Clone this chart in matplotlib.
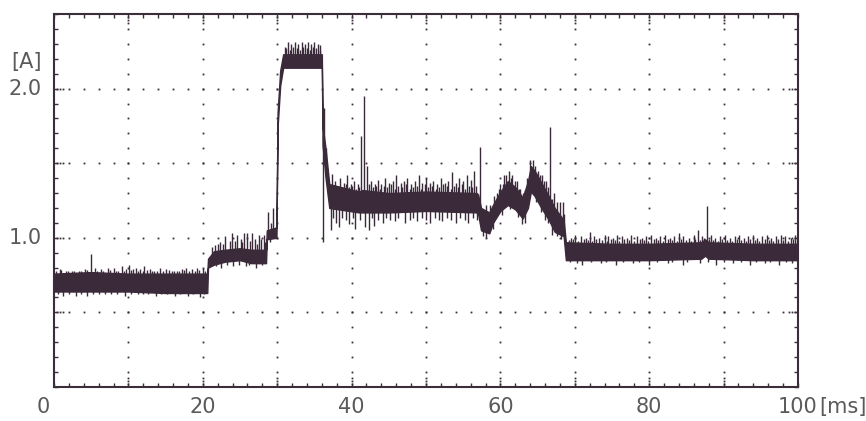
import numpy as np
import matplotlib
matplotlib.use("Agg")
import matplotlib.pyplot as plt
from matplotlib.ticker import MultipleLocator

# ---- data ----
# core band envelope of the current trace: time [ms], lower and upper value [A]
env_t  = [0.0, 5.0, 10.0, 15.0, 20.6, 20.7, 21.5, 23.0, 25.0, 26.5, 28.5, 28.6, 29.9,
          30.05, 30.4, 30.8, 36.0, 36.1, 36.5, 37.0, 41.0, 41.5, 45.0, 50.0, 56.8, 57.0,
          57.4, 58.5, 59.0, 60.0, 61.0, 62.0, 63.0, 63.7, 64.1, 64.6, 65.5, 66.5, 67.3,
          68.5, 68.8, 75.0, 80.0, 87.0, 87.5, 88.0, 94.0, 100.0]
env_lo = [0.64, 0.64, 0.64, 0.63, 0.63, 0.80, 0.82, 0.84, 0.85, 0.83, 0.83, 0.99, 1.00,
          1.74, 2.02, 2.14, 2.14, 1.62, 1.40, 1.20, 1.17, 1.17, 1.17, 1.18, 1.17, 1.16,
          1.05, 1.03, 1.10, 1.18, 1.22, 1.19, 1.13, 1.20, 1.31, 1.28, 1.20, 1.12, 1.04,
          1.01, 0.85, 0.85, 0.85, 0.86, 0.88, 0.86, 0.85, 0.85]
env_hi = [0.76, 0.77, 0.76, 0.76, 0.76, 0.86, 0.91, 0.92, 0.93, 0.92, 0.92, 1.05, 1.07,
          1.84, 2.12, 2.23, 2.23, 1.75, 1.60, 1.36, 1.31, 1.32, 1.30, 1.31, 1.30, 1.29,
          1.20, 1.17, 1.22, 1.31, 1.38, 1.34, 1.27, 1.38, 1.48, 1.45, 1.37, 1.28, 1.20,
          1.12, 0.97, 0.96, 0.96, 0.97, 0.99, 0.97, 0.96, 0.96]

# prominent upward spikes: time [ms], peak value [A]
up_t = [0.8, 1.6, 2.4, 3.3, 4.1, 5.0, 5.5, 6.3, 7.2, 8.0, 8.6, 9.1, 9.7, 10.1, 10.6, 11.0,
        11.6, 12.1, 12.9, 13.5, 14.2, 15.1, 15.8, 16.5, 17.2, 17.8, 18.5, 19.2, 20.0,
        21.2, 22.0, 23.0, 23.6, 23.9, 24.6, 25.1, 25.5, 26.0, 26.6, 27.0, 27.5, 28.2,
        28.8, 29.1, 29.4,
        31.0, 31.5, 31.9, 32.4, 32.8, 33.3, 33.7, 34.2, 34.6, 35.0, 35.5, 35.8,
        36.3, 36.6,
        37.3, 37.8, 38.5, 39.0, 39.4, 39.9, 40.3, 40.8, 41.3, 41.6, 42.1, 42.6, 43.1,
        43.5, 44.0, 44.5, 45.0, 45.5, 46.0, 46.6, 47.0, 47.5, 48.0, 48.5, 49.0, 49.5,
        50.0, 50.5, 51.0, 51.5, 52.0, 52.5, 53.0, 53.5, 54.0, 54.5, 55.0, 55.5, 56.0,
        56.4, 57.2,
        59.5, 60.0, 60.5, 61.1, 61.6, 62.2, 62.7, 63.3, 64.0, 64.4, 65.0, 65.6, 66.1,
        66.6, 67.2, 67.6, 68.0, 68.4,
        69.5, 70.0, 70.8, 71.5, 72.0, 72.6, 73.2, 74.0, 74.5, 75.1, 75.7, 76.3, 77.0,
        77.6, 78.3, 79.0, 79.6, 80.2, 80.9, 81.5, 82.1, 82.8, 83.4, 84.0, 84.6, 85.3,
        86.0, 86.5, 87.1, 87.8, 88.3, 88.9, 89.5, 90.2, 90.8, 91.5, 92.1, 92.7, 93.3,
        93.9, 94.5, 95.2, 95.8, 96.4, 97.0, 97.7, 98.3, 99.0, 99.6]
up_v = [0.79, 0.78, 0.78, 0.78, 0.79, 0.89, 0.80, 0.79, 0.80, 0.80, 0.78, 0.81, 0.79, 0.82,
        0.79, 0.80, 0.79, 0.81, 0.79, 0.78, 0.80, 0.79, 0.78, 0.78, 0.79, 0.80, 0.79,
        0.80, 0.80,
        0.94, 0.96, 1.01, 0.98, 1.03, 1.02, 0.99, 1.03, 1.03, 1.03, 0.99, 1.02, 1.02,
        1.17, 1.10, 1.20,
        2.28, 2.31, 2.30, 2.31, 2.30, 2.31, 2.30, 2.31, 2.30, 2.31, 2.30, 2.29,
        1.87, 1.60,
        1.43, 1.38, 1.40, 1.37, 1.42, 1.36, 1.38, 1.36, 1.68, 1.95, 1.48, 1.38, 1.36,
        1.39, 1.36, 1.40, 1.37, 1.38, 1.42, 1.37, 1.38, 1.40, 1.36, 1.38, 1.42, 1.37,
        1.40, 1.37, 1.38, 1.36, 1.40, 1.37, 1.38, 1.44, 1.37, 1.40, 1.38, 1.42, 1.39,
        1.45, 1.61,
        1.30, 1.36, 1.42, 1.45, 1.42, 1.38, 1.33, 1.32, 1.52, 1.52, 1.45, 1.42, 1.38,
        1.74, 1.30, 1.24, 1.24, 1.24,
        1.00, 1.02, 1.01, 1.00, 1.04, 1.01, 1.00, 1.02, 1.01, 1.00, 1.02, 1.01, 1.00,
        1.02, 1.01, 1.00, 1.01, 1.02, 1.00, 1.01, 1.02, 1.00, 1.01, 1.03, 1.01, 1.00,
        1.02, 1.05, 1.01, 1.21, 1.02, 1.00, 1.01, 1.02, 1.00, 1.01, 1.02, 1.00, 1.01,
        1.02, 1.00, 1.01, 1.02, 1.00, 1.01, 1.02, 1.01, 1.00, 1.02]

# small upward noise spikes (band fuzz): time [ms], peak value [A]
fine_up_t = [0.3, 1.0, 1.9, 2.7, 3.6, 4.4, 5.8, 6.6, 7.5, 8.3, 9.4, 10.4, 11.3, 11.9,
             12.5, 13.2, 13.9, 14.6, 15.4, 16.1, 16.8, 17.5, 18.2, 18.9, 19.5, 20.3,
             21.6, 22.3, 22.7, 24.3, 25.3, 26.3, 27.3, 27.8, 28.4,
             31.2, 31.7, 32.1, 32.6, 33.0, 33.5, 34.0, 34.4, 34.8, 35.2, 35.7,
             37.6, 38.1, 38.8, 39.2, 39.7, 40.1, 40.6, 41.0, 42.4, 42.9, 43.3, 43.8,
             44.3, 44.8, 45.3, 45.8, 46.3, 46.8, 47.3, 47.8, 48.3, 48.8, 49.3, 49.8,
             50.3, 50.8, 51.3, 51.8, 52.3, 52.8, 53.3, 53.8, 54.3, 54.8, 55.3, 55.8,
             56.2, 56.7,
             58.0, 58.6, 59.2, 59.8, 60.3, 60.8, 61.4, 61.9, 62.5, 63.0, 63.6, 64.7,
             65.3, 65.9, 66.4, 67.0, 68.6,
             69.2, 69.8, 70.4, 71.2, 71.8, 72.3, 72.9, 73.6, 74.3, 74.8, 75.4, 76.0,
             76.6, 77.3, 78.0, 78.7, 79.3, 79.9, 80.6, 81.2, 81.8, 82.5, 83.1, 83.7,
             84.3, 85.0, 85.6, 86.2, 86.8, 87.4, 88.1, 88.6, 89.2, 89.8, 90.5, 91.1,
             91.8, 92.4, 93.0, 93.6, 94.2, 94.8, 95.5, 96.1, 96.7, 97.3, 98.0, 98.6,
             99.3, 99.8]
fine_up_v = [0.775, 0.785, 0.775, 0.78, 0.775, 0.785, 0.78, 0.775, 0.785, 0.78, 0.775,
             0.785, 0.78, 0.775, 0.785, 0.78, 0.775, 0.78, 0.785, 0.775, 0.78, 0.785,
             0.775, 0.78, 0.785, 0.775,
             0.95, 0.97, 0.96, 0.98, 0.97, 0.98, 0.96, 0.99, 0.97,
             2.27, 2.26, 2.28, 2.27, 2.26, 2.28, 2.27, 2.26, 2.28, 2.27, 2.26,
             1.34, 1.35, 1.33, 1.36, 1.34, 1.35, 1.33, 1.34, 1.36, 1.34, 1.35, 1.33,
             1.35, 1.34, 1.36, 1.33, 1.35, 1.34, 1.36, 1.33, 1.34, 1.35, 1.33, 1.36,
             1.34, 1.35, 1.33, 1.34, 1.36, 1.35, 1.33, 1.35, 1.34, 1.36, 1.33, 1.35,
             1.34, 1.35,
             1.22, 1.22, 1.28, 1.33, 1.36, 1.42, 1.40, 1.38, 1.33, 1.30, 1.40, 1.48,
             1.42, 1.38, 1.34, 1.26, 1.16,
             0.985, 0.99, 0.98, 0.99, 0.985, 0.98, 0.99, 0.985, 0.98, 0.99, 0.985,
             0.98, 0.99, 0.985, 0.98, 0.99, 0.985, 0.98, 0.99, 0.985, 0.98, 0.99,
             0.985, 0.98, 0.99, 0.985, 0.98, 0.99, 0.985, 1.00, 0.99, 0.985, 0.98,
             0.99, 0.985, 0.98, 0.99, 0.985, 0.98, 0.99, 0.985, 0.98, 0.99, 0.985,
             0.98, 0.99, 0.985, 0.98, 0.99, 0.985]

# downward spikes: time [ms], minimum value [A]
dn_t = [0.5, 1.2, 2.0, 3.0, 3.6, 4.5, 5.3, 6.1, 6.8, 7.7, 8.5, 9.5, 10.3, 11.3, 12.0,
        12.6, 13.7, 14.4, 15.2, 16.2, 17.0, 18.0, 18.7, 19.6, 20.2,
        21.8, 22.5, 23.3, 24.0, 24.8, 25.8, 26.2, 27.2, 28.0, 29.0, 36.1,
        37.2, 37.5, 37.9, 38.3, 38.7, 39.3, 39.6, 40.2, 40.5, 41.1, 41.8, 42.3, 42.7,
        43.0, 43.5, 44.2, 44.6, 45.2, 45.8, 46.3, 47.2, 47.8, 48.3, 48.8, 49.4, 50.0,
        50.5, 51.2, 51.7, 52.2, 52.8, 53.4, 54.0, 54.6, 55.2, 55.7, 56.3, 56.8,
        57.7, 58.0, 59.0, 60.2, 61.3, 62.3, 62.9, 63.3, 64.8, 65.4, 66.0, 66.4, 67.0,
        67.6, 68.2,
        69.4, 70.3, 71.0, 72.2, 73.5, 74.2, 75.5, 76.5, 77.8, 78.6, 80.0, 81.0, 82.5,
        83.0, 84.5, 85.1, 86.8, 87.9, 89.0, 90.0, 91.2, 92.3, 93.5, 94.3, 95.5, 96.3,
        97.5, 98.4, 99.2]
dn_v = [0.62, 0.61, 0.62, 0.61, 0.62, 0.61, 0.62, 0.62, 0.62, 0.62, 0.62, 0.61, 0.62,
        0.62, 0.62, 0.62, 0.61, 0.62, 0.62, 0.61, 0.62, 0.61, 0.62, 0.60, 0.62,
        0.81, 0.80, 0.82, 0.81, 0.82, 0.81, 0.82, 0.80, 0.82, 0.97, 0.97,
        1.05, 1.13, 1.10, 1.07, 1.13, 1.12, 1.09, 1.13, 1.06, 1.12, 1.07, 1.05, 1.13,
        1.08, 1.12, 1.10, 1.13, 1.12, 1.11, 1.13, 1.10, 1.12, 1.13, 1.11, 1.13, 1.12,
        1.10, 1.13, 1.12, 1.11, 1.13, 1.12, 1.10, 1.13, 1.12, 1.10, 1.13, 1.12,
        1.01, 1.00, 1.06, 1.15, 1.19, 1.14, 1.09, 1.10, 1.24, 1.17, 1.12, 1.10, 1.02,
        1.01, 0.99,
        0.835, 0.83, 0.82, 0.835, 0.83, 0.835, 0.82, 0.835, 0.83, 0.835, 0.82, 0.835,
        0.83, 0.835, 0.82, 0.835, 0.83, 0.84, 0.82, 0.835, 0.83, 0.835, 0.82, 0.835,
        0.83, 0.835, 0.82, 0.835, 0.83]

x_labels = ["0", "20", "40", "60", "80", "100"]
x_label_pos = [0, 20, 40, 60, 80, 100]
y_labels = ["1.0", "2.0"]
y_label_pos = [1.0, 2.0]

# ---- drawing ----
TRACE = "#3b2a3a"
FRAME = "#3a2e3a"
TEXT = "#5a5a5a"

fig = plt.figure(figsize=(8.66, 4.21), dpi=100)
ax = fig.add_axes([54 / 866, 34 / 421, 744 / 866, 373 / 421])
ax.set_xlim(0, 100)
ax.set_ylim(0, 2.5)

# dotted grid (dots at minor tick spacing)
dot_kw = dict(linestyle="none", marker="s", markersize=1.3, color=FRAME,
              markeredgewidth=0, zorder=1)
vx = np.arange(10, 100, 10)
hy = np.arange(0.5, 2.5, 0.5)
yy = np.arange(0.1, 2.45, 0.1)
xx = np.arange(2, 99, 2)
for x in vx:
    ax.plot(np.full_like(yy, x), yy, **dot_kw)
    ax.plot([x] * 6, [0.02, 0.04, 0.06, 2.44, 2.46, 2.48], **dot_kw)
for y in hy:
    ax.plot(xx, np.full_like(xx, y, dtype=float), **dot_kw)
    ax.plot([0.4, 0.8, 1.2, 98.8, 99.2, 99.6], [y] * 6, **dot_kw)

# trace band
ax.fill_between(env_t, env_lo, env_hi, color=TRACE, linewidth=1.0,
                edgecolor=TRACE, zorder=3)
mid_v = (np.array(env_lo) + np.array(env_hi)) / 2


def base(t):
    return np.interp(np.asarray(t), env_t, mid_v)


for ts, vs in ((up_t, up_v), (fine_up_t, fine_up_v), (dn_t, dn_v)):
    ax.vlines(ts, base(ts), vs, color=TRACE, linewidth=1.0, zorder=3)

# frame and ticks
for s in ax.spines.values():
    s.set_color(FRAME)
    s.set_linewidth(1.5)
ax.xaxis.set_minor_locator(MultipleLocator(2))
ax.yaxis.set_minor_locator(MultipleLocator(0.1))
ax.set_xticks([])
ax.set_yticks([])
ax.tick_params(which="minor", direction="in", length=3, width=1, color=FRAME,
               top=True, right=True, bottom=True, left=True,
               labelbottom=False, labelleft=False)

fs = 15
for lab, x in zip(x_labels, x_label_pos):
    if x == 0:
        ax.text(-0.6, -0.07, lab, ha="right", va="top", fontsize=fs, color=TEXT,
                fontfamily="DejaVu Sans", clip_on=False)
    else:
        ax.text(x, -0.07, lab, ha="center", va="top", fontsize=fs, color=TEXT,
                fontfamily="DejaVu Sans", clip_on=False)
ax.text(102.8, -0.07, "[ms]", ha="left", va="top", fontsize=fs, color=TEXT,
        fontfamily="DejaVu Sans", clip_on=False)
for lab, y in zip(y_labels, y_label_pos):
    ax.text(-1.6, y, lab, ha="right", va="center", fontsize=fs, color=TEXT,
            fontfamily="DejaVu Sans", clip_on=False)
ax.text(-1.6, 2.18, "[A]", ha="right", va="center", fontsize=fs, color=TEXT,
        fontfamily="DejaVu Sans", clip_on=False)

fig.savefig("out.png", dpi=100)
